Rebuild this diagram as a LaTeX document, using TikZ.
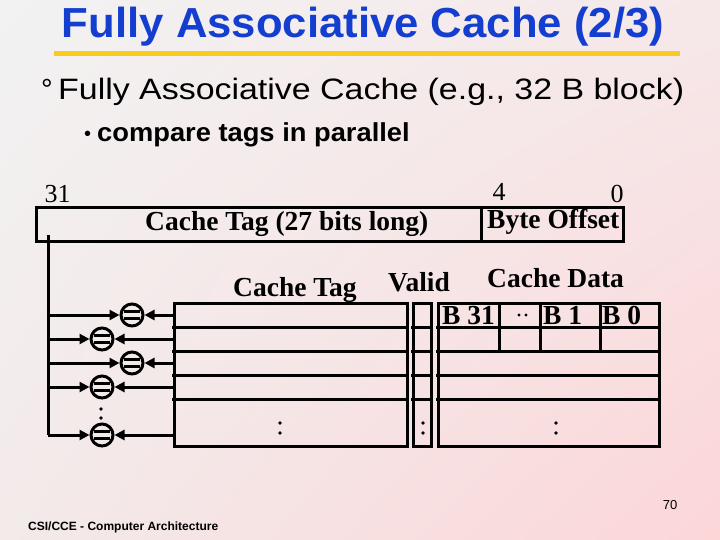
\documentclass[tikz,border=0pt]{standalone}
\usepackage{fontspec}
\setmainfont{Liberation Serif}
\newfontfamily\arial{Liberation Sans}
\usetikzlibrary{arrows.meta,shadings}
\definecolor{bgA}{HTML}{F2F2F2}
\definecolor{bgB}{HTML}{F6E8E9}
\definecolor{bgC}{HTML}{F3EAEA}
\definecolor{bgD}{HTML}{FCD6D8}
\definecolor{titleblue}{RGB}{20,62,208}
\definecolor{yel}{RGB}{249,203,28}
\tikzset{
  ln/.style={line width=3pt},
  arw/.style={line width=3pt,-{Triangle[length=10pt,width=10pt]}},
  cmp/.style={circle,draw,line width=3pt,minimum size=22pt,inner sep=0pt,
    path picture={\draw[line width=2.2pt]
      ([shift={(-8,-3.5)}]path picture bounding box.center) -- ++(16,0)
      ([shift={(-8,3.5)}]path picture bounding box.center) -- ++(16,0);}},
  lbl/.style={font=\bfseries\fontsize{27.5}{30}\selectfont,inner sep=0pt,anchor=base west},
  num/.style={font=\fontsize{26}{28}\selectfont,inner sep=0pt,anchor=base},
  dot/.style={fill=black}
}
\begin{document}
\begin{tikzpicture}[x=1pt,y=-1pt]
\useasboundingbox (0,0) rectangle (720,540);
\shade[upper left=bgA,upper right=bgB,lower left=bgC,lower right=bgD] (0,0) rectangle (720,540);

% title
\node[anchor=base,inner sep=0pt,text=titleblue,font=\arial\bfseries\fontsize{42}{48}\selectfont] (title) at (363,38) {\scalebox{1.04}[1]{Fully Associative Cache (2/3)}};
\draw[line width=5pt,yel] (54,54) -- (680,54);

% bullets
\node[anchor=base west,inner sep=0pt,font=\arial\fontsize{29}{32}\selectfont] (deg) at (41,100) {°};
\node[anchor=base west,inner sep=0pt,font=\arial\fontsize{29.5}{32}\selectfont] (sub) at (58,100) {\scalebox{1.15}[1]{Fully Associative Cache (e.g., 32 B block)}};
\node[anchor=base west,inner sep=0pt,font=\arial\fontsize{20}{22}\selectfont] (bul) at (84,141) {•};
\node[anchor=base west,inner sep=0pt,font=\arial\bfseries\fontsize{26}{28}\selectfont] (sub2) at (97,142) {\scalebox{1.05}[1]{compare tags in parallel}};

% address
\node[num] (n31) at (57.5,203) {31};
\node[num] (n4) at (499,201) {4};
\node[num] (n0) at (617,203) {0};
\draw[ln] (36,208) rectangle (623,241);
\draw[ln] (481,208) -- (481,241);
\node[lbl] (tagf) at (145,230) {Cache Tag (27 bits long)};
\node[lbl] (offf) at (487,229) {Byte Offset};

% headers
\node[lbl] (hTag) at (233,296) {Cache Tag};
\node[lbl] (hVal) at (388,291) {Valid};
\node[lbl] (hDat) at (487,287) {Cache Data};

% tag array
\draw[ln] (174,303) rectangle (407,446);
\foreach \y in {327,351,375,399} {\draw[ln] (172,\y) -- (407,\y);}
% valid
\draw[ln] (413,303) rectangle (431,446);
\foreach \y in {327,351,375,399} {\draw[ln] (411,\y) -- (431,\y);}
% data
\draw[ln] (438,303) rectangle (659,446);
\foreach \y in {327,351,375,399} {\draw[ln] (436,\y) -- (659,\y);}
\foreach \x in {499,540,600} {\draw[ln] (\x,303) -- (\x,351);}
\node[lbl] (b31) at (442,324) {B 31};
\node[lbl] (b1) at (543,324) {B 1};
\node[lbl] (b0) at (602,324) {B 0};
\fill[dot] (519,315) circle (1.6) (526,315) circle (1.6);

% dots in arrays
\fill[dot] (280,423) circle (1.8) (280,433) circle (1.8);
\fill[dot] (423,423) circle (1.8) (423,433) circle (1.8);
\fill[dot] (556,423) circle (1.8) (556,433) circle (1.8);
\fill[dot] (101,409) circle (1.8) (101,418) circle (1.8);

% comparators
\node[cmp] (c1) at (132,315) {};
\node[cmp] (c2) at (102,339) {};
\node[cmp] (c3) at (132,363) {};
\node[cmp] (c4) at (102,387) {};
\node[cmp] (c5) at (102,435) {};

\coordinate (bt) at (48,235);
\coordinate (bb) at (48,435);
\foreach \i/\y in {1/315,2/339,3/363,4/387,5/435} {
  \coordinate (b\i) at (48,\y);
  \coordinate (t\i) at (174,\y);
}
\draw[ln] (bt) -- (bb);
\foreach \i in {1,...,5} {
  \draw[arw] (b\i) -- (c\i.west);
  \draw[arw] (t\i) -- (c\i.east);
}

% footer
\node[anchor=base west,inner sep=0pt,font=\arial\bfseries\fontsize{12}{14}\selectfont] (foot) at (28,530) {CSI/CCE - Computer Architecture};
\node[anchor=base,inner sep=0pt,font=\arial\fontsize{13}{14}\selectfont] (page) at (670,509) {70};
\end{tikzpicture}
\end{document}
